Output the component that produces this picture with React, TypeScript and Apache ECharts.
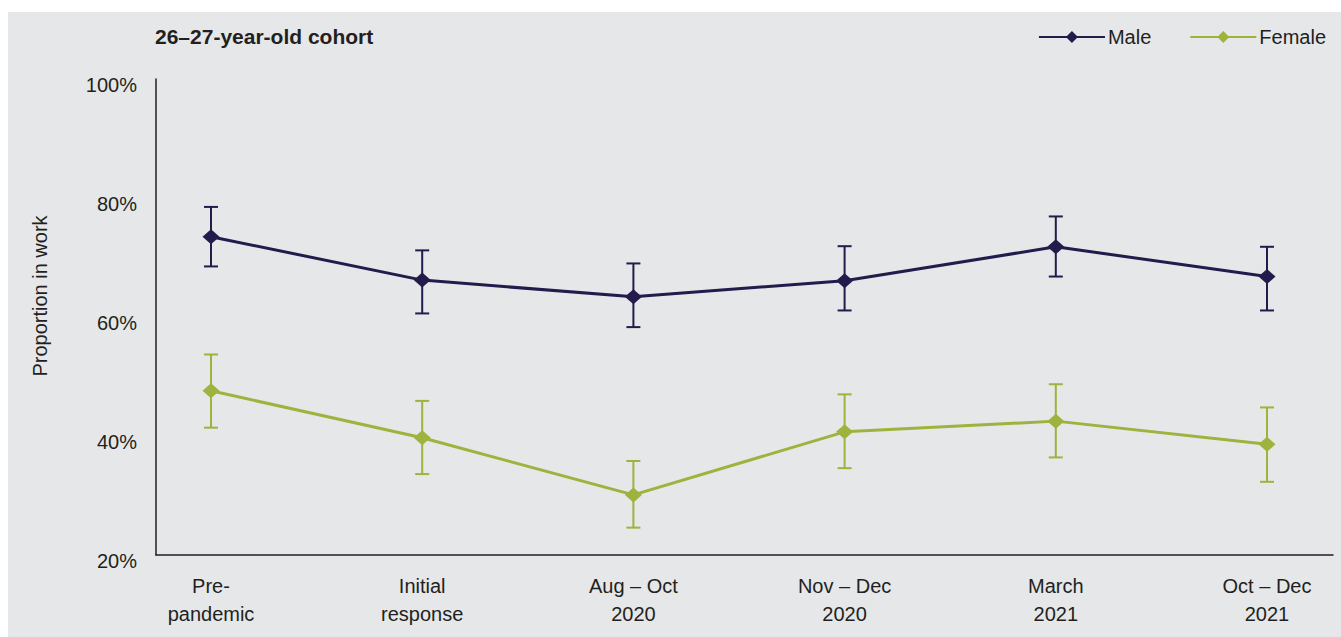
import React, { useEffect, useRef } from "react";
import * as echarts from "echarts";

const categories = [
  "Pre-\npandemic",
  "Initial\nresponse",
  "Aug – Oct\n2020",
  "Nov – Dec\n2020",
  "March\n2021",
  "Oct – Dec\n2021",
];
const yTicks = [20, 40, 60, 80, 100];
const yAxisTitle = "Proportion in work";
const maleValues = [73.5, 66.2, 63.4, 66.1, 71.8, 66.8];
const maleLow = [68.5, 60.6, 58.3, 61.1, 66.8, 61.1];
const maleHigh = [78.5, 71.2, 69.0, 71.9, 76.9, 71.8];
const femaleValues = [47.6, 39.7, 30.1, 40.7, 42.5, 38.6];
const femaleLow = [41.4, 33.6, 24.6, 34.6, 36.4, 32.3];
const femaleHigh = [53.7, 45.9, 35.8, 47.0, 48.7, 44.8];

const MALE = "#231b4b";
const FEMALE = "#9db33d";
const TEXT = "#231f20";
const FONT = "'Liberation Sans Narrow', 'Liberation Sans', Arial, sans-serif";

function errorSeries(name: string, low: number[], high: number[], color: string) {
  return {
    type: "custom",
    name: name + " error",
    xAxisIndex: 1,
    yAxisIndex: 1,
    z: 2,
    silent: true,
    data: low.map((l, i) => [i, l, high[i]]),
    renderItem: (params: any, api: any) => {
      const x = api.value(0);
      const lo = api.coord([x, api.value(1)]);
      const hi = api.coord([x, api.value(2)]);
      const cap = 7;
      const style = { stroke: color, lineWidth: 2 };
      return {
        type: "group",
        children: [
          { type: "line", shape: { x1: lo[0], y1: lo[1], x2: hi[0], y2: hi[1] }, style },
          { type: "line", shape: { x1: lo[0] - cap, y1: lo[1], x2: lo[0] + cap, y2: lo[1] }, style },
          { type: "line", shape: { x1: hi[0] - cap, y1: hi[1], x2: hi[0] + cap, y2: hi[1] }, style },
        ],
      };
    },
  };
}

export default function App() {
  const ref = useRef<HTMLDivElement>(null);
  useEffect(() => {
    if (!ref.current) return;
    const chart = echarts.init(ref.current, undefined, { renderer: "svg" });
    const yMin = yTicks[0];
    const yMax = yTicks[yTicks.length - 1];
    chart.setOption({
      animation: false,
      backgroundColor: "transparent",
      textStyle: { fontFamily: FONT },
      graphic: [
        {
          type: "rect",
          z: -10,
          silent: true,
          shape: { x: 8, y: 12, width: 1333, height: 625 },
          style: { fill: "#e6e7e9" },
        },
        {
          type: "text",
          x: 40,
          y: 296,
          rotation: Math.PI / 2,
          silent: true,
          style: {
            text: yAxisTitle,
            fontFamily: FONT,
            fontSize: 20,
            fill: TEXT,
            align: "center",
            verticalAlign: "middle",
          },
        },
      ],
      title: {
        text: "26–27-year-old cohort",
        left: 150,
        top: 21,
        textStyle: { fontFamily: FONT, fontSize: 21, fontWeight: "bold", color: TEXT },
      },
      legend: {
        right: 10,
        top: 22,
        itemWidth: 66,
        itemHeight: 15,
        itemGap: 38,
        data: ["Male", "Female"],
        textStyle: { fontFamily: FONT, fontSize: 20, color: TEXT, padding: [0, 0, 0, -2] },
      },
      grid: [
        { left: 156, right: 8, top: 79, bottom: 82 },
        { left: 211, right: 74, top: 79, bottom: 82 },
      ],
      xAxis: [
        {
          type: "value",
          gridIndex: 0,
          min: 0,
          max: 1,
          axisLine: { show: true, lineStyle: { color: TEXT, width: 1.5 } },
          axisTick: { show: false },
          axisLabel: { show: false },
          splitLine: { show: false },
        },
        {
          type: "category",
          gridIndex: 1,
          data: categories,
          boundaryGap: false,
          axisLine: { show: false },
          axisTick: { show: false },
          splitLine: { show: false },
          axisLabel: {
            margin: 17,
            fontFamily: FONT,
            fontSize: 20,
            lineHeight: 28,
            color: TEXT,
            interval: 0,
          },
        },
      ],
      yAxis: [
        {
          type: "value",
          gridIndex: 0,
          min: yMin,
          max: yMax,
          interval: 20,
          axisLine: { show: true, lineStyle: { color: TEXT, width: 1.5 } },
          axisTick: { show: false },
          splitLine: { show: false },
          axisLabel: {
            formatter: "{value}%",
            margin: 19,
            fontFamily: FONT,
            fontSize: 20,
            color: TEXT,
            verticalAlign: "top",
            lineHeight: 12,
          },
        },
        {
          type: "value",
          gridIndex: 1,
          min: yMin,
          max: yMax,
          show: false,
          splitLine: { show: false },
        },
      ],
      series: [
        errorSeries("Male", maleLow, maleHigh, MALE),
        errorSeries("Female", femaleLow, femaleHigh, FEMALE),
        {
          type: "line",
          name: "Male",
          xAxisIndex: 1,
          yAxisIndex: 1,
          z: 3,
          data: maleValues,
          symbol: "diamond",
          symbolSize: [17, 15],
          lineStyle: { color: MALE, width: 3 },
          itemStyle: { color: MALE },
        },
        {
          type: "line",
          name: "Female",
          xAxisIndex: 1,
          yAxisIndex: 1,
          z: 3,
          data: femaleValues,
          symbol: "diamond",
          symbolSize: [17, 15],
          lineStyle: { color: FEMALE, width: 3 },
          itemStyle: { color: FEMALE },
        },
      ],
    });
    return () => chart.dispose();
  }, []);
  return (
    <div
      ref={ref}
      style={{ position: "absolute", left: 0, top: 0, width: 1341, height: 637 }}
    />
  );
}
